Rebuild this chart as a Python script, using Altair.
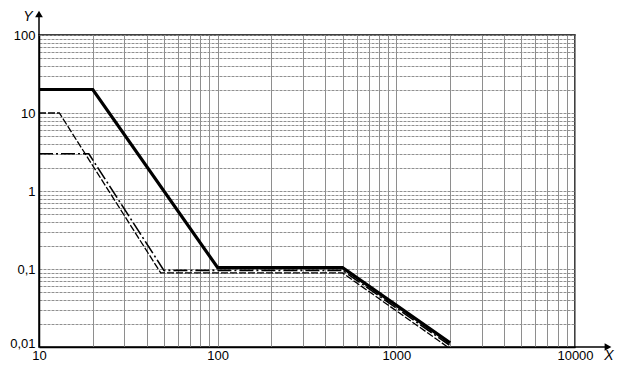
import altair as alt
import pandas as pd

# --- data ---
solid_x = [10, 20, 100, 500, 2000]
solid_y = [20, 20, 0.104, 0.104, 0.0113]

dashed_x = [10, 13, 48, 500, 1950]
dashed_y = [10, 10, 0.089, 0.089, 0.0099]

dashdot_x = [10, 19, 50, 500, 1980]
dashdot_y = [3, 3, 0.096, 0.096, 0.0106]

x_ticks = [m * 10 ** e for e in range(1, 4) for m in range(1, 10)] + [10000]
y_ticks = [m * 10 ** e for e in range(-2, 2) for m in range(1, 10)] + [100]

rows = []
for name, xs, ys in [("solid", solid_x, solid_y), ("dashed", dashed_x, dashed_y), ("dashdot", dashdot_x, dashdot_y)]:
    for i, (a, b) in enumerate(zip(xs, ys)):
        rows.append({"series": name, "x": a, "y": b, "order": i})
df = pd.DataFrame(rows)
one = pd.DataFrame({"k": [0]})

W, H = 536, 312
FONT = "Liberation Sans, Arial, sans-serif"
label_expr = ("abs(log(datum.value)/LN10 - round(log(datum.value)/LN10)) < 1e-6 ? "
              "replace(format(datum.value, '~g'), '.', ',') : ''")

xenc = alt.X("x:Q", scale=alt.Scale(type="log", domain=[10, 10000], nice=False),
             axis=alt.Axis(values=x_ticks, labelExpr=label_expr, title=None, ticks=False,
                           grid=True, gridColor="#8e8e8e", gridWidth=1,
                           labelOverlap=False, labelFlush=False, labelPadding=2,
                           domainColor="black", domainWidth=1.5))
yenc = alt.Y("y:Q", scale=alt.Scale(type="log", domain=[0.01, 100], nice=False),
             axis=alt.Axis(values=y_ticks, labelExpr=label_expr, title=None, ticks=False,
                           grid=True, gridColor="#909090", gridWidth=1, gridDash=[3, 1],
                           labelOverlap=False, labelFlush=False, labelPadding=4,
                           labelOffset={"condition": {"test": "datum.value < 0.0105", "value": -4}, "value": 0},
                           domainColor="black", domainWidth=1.5))

base = alt.Chart(df)

solid = base.transform_filter(alt.datum.series == "solid").mark_line(
    color="black", strokeWidth=3.2, strokeJoin="miter").encode(x=xenc, y=yenc, order="order:Q")
dashed = base.transform_filter(alt.datum.series == "dashed").mark_line(
    color="black", strokeWidth=1.3, strokeDash=[7, 2]).encode(x="x:Q", y="y:Q", order="order:Q")
dashdot = base.transform_filter(alt.datum.series == "dashdot").mark_line(
    color="black", strokeWidth=1.6, strokeDash=[14, 3, 2, 3]).encode(x="x:Q", y="y:Q", order="order:Q")

# axis extensions with arrow heads
deco = alt.Chart(one)
yext = deco.mark_rule(color="black", strokeWidth=1.5).encode(
    x=alt.value(0), y=alt.value(-22), y2=alt.value(0))
xext = deco.mark_rule(color="black", strokeWidth=1.5).encode(
    x=alt.value(W), x2=alt.value(W + 34), y=alt.value(H))
yarrow = deco.mark_point(shape="triangle-up", filled=True, color="black", opacity=1, size=60).encode(
    x=alt.value(0), y=alt.value(-21))
xarrow = deco.mark_point(shape="triangle-right", filled=True, color="black", opacity=1, size=60).encode(
    x=alt.value(W + 33), y=alt.value(H))
ylab = deco.mark_text(text="Y", fontStyle="italic", fontSize=14, font=FONT,
                      color="black", align="center", baseline="middle").encode(
    x=alt.value(-11), y=alt.value(-18))
xlab = deco.mark_text(text="X", fontStyle="italic", fontSize=14, font=FONT,
                      color="black", align="center", baseline="middle").encode(
    x=alt.value(W + 34), y=alt.value(H + 9))

chart = alt.layer(solid, dashed, dashdot, yext, xext, yarrow, xarrow, ylab, xlab).properties(
    width=W, height=H, autosize="none",
    padding={"left": 31, "top": 27, "right": 40, "bottom": 17},
    background="white",
).configure_view(stroke="black", strokeWidth=1.5).configure_axis(
    labelFont=FONT, labelFontSize=13, labelColor="black"
)

chart.save("out.html", embed_options={"renderer": "svg", "actions": False})
